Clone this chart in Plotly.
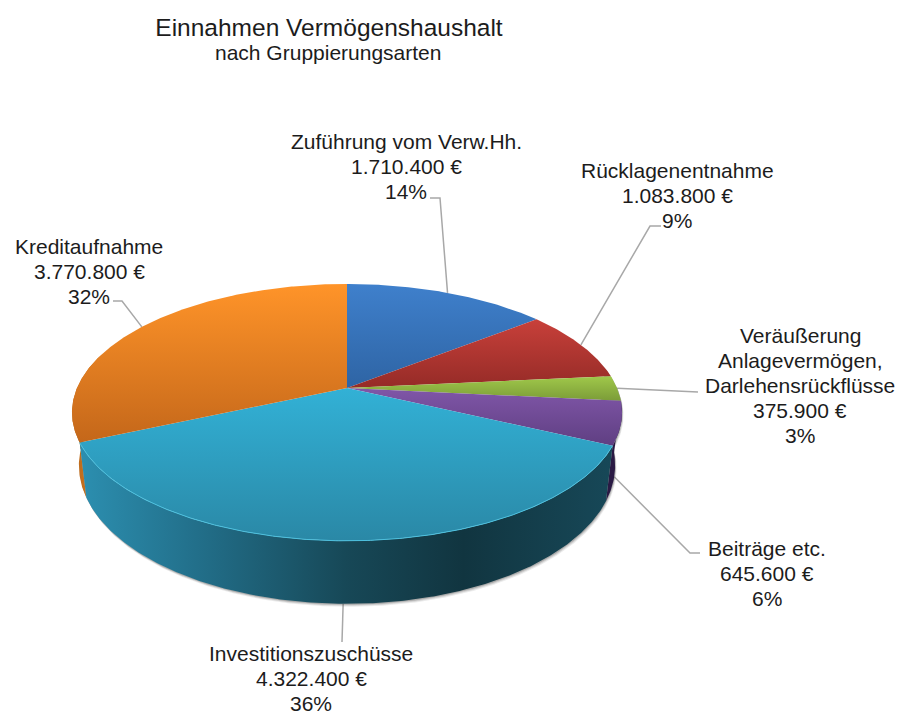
import numpy as np
import plotly.graph_objects as go

# ---- data ----
categories = ["Zuführung vom Verw.Hh.", "Rücklagenentnahme",
              "Veräußerung<br>Anlagevermögen,<br>Darlehensrückflüsse",
              "Beiträge etc.", "Investitionszuschüsse", "Kreditaufnahme"]
values = [1710400, 1083800, 375900, 645600, 4322400, 3770800]
value_labels = ["1.710.400 €", "1.083.800 €", "375.900 €", "645.600 €", "4.322.400 €", "3.770.800 €"]
percent_labels = ["14%", "9%", "3%", "6%", "36%", "32%"]

# ---- styling ----
top_colors = [("#2e64a4", "#3f80cc"), ("#952b27", "#c8403a"), ("#7b9c38", "#a0c84a"),
              ("#5f3f82", "#8056a8"), ("#2a88a6", "#32b1d6"), ("#c4671a", "#ff9429")]
wall_scales = [None, None, None,
               [[0, "#2a1a44"], [1, "#2a1a44"]],
               [[0, "#2c8fb0"], [0.22, "#226f8a"], [0.5, "#174857"], [0.72, "#113540"], [1, "#174858"]],
               [[0, "#b8681c"], [1, "#d87c20"]]]
FONT = "Liberation Sans"
TXT = "#1c1c1c"
LEADER = "#a8a8a8"

# projection geometry (perspective view of a flat cylinder)
CX, CY, R, H, K, DEPTH, SHRINK = 347, 388, 270, 123.8, 0.19, 51, 0.025


def project(theta_deg, z=0.0):
    t = np.radians(theta_deg)
    s = 1 / (1 + K * np.cos(t))
    x = CX + (1 - SHRINK * z) * R * np.sin(t) * s
    y = CY - H * np.cos(t) * s + z * DEPTH * s
    return x, y


def arc(a, b):
    n = max(2, int(abs(b - a) * 2) + 1)
    return np.linspace(a, b, n)


fracs = np.array(values) / np.sum(values)
edges = np.concatenate([[0], np.cumsum(fracs)]) * 360

fig = go.Figure()

# leader lines (label-side elbows, then slice anchor)
elbows = [[(430, 198), (440, 198)], [(661, 226), (650, 226)], [(698, 392)],
          [(700, 553), (690, 553)], [(342, 642)], [(113, 301), (122, 301)]]
anchor_z = [0, 0, 0, 1, 1, 0]
for i, pts in enumerate(elbows):
    mid = (edges[i] + edges[i + 1]) / 2
    ax, ay = project(mid, anchor_z[i])
    xs = [p[0] for p in pts] + [float(ax)]
    ys = [p[1] for p in pts] + [float(ay)]
    fig.add_trace(go.Scatter(x=xs, y=ys, mode="lines", line=dict(color=LEADER, width=1.5),
                             hoverinfo="skip", showlegend=False))

# soft shadow beneath the cylinder
th = arc(80, 285)
bx, by = project(th, 1)
tx, ty = project(th, 0)
for off, alpha in [(3, 0.10), (2, 0.16), (1, 0.25)]:
    fig.add_trace(go.Scatter(
        x=np.concatenate([tx, bx[::-1]]) + off * 0.5, y=np.concatenate([ty, by[::-1]]) + off,
        mode="lines", fill="toself", fillcolor=f"rgba(60,60,60,{alpha})",
        line=dict(width=0), hoverinfo="skip", showlegend=False))

# outer walls
for i in [3, 5, 4]:
    a, b = max(edges[i], 80), min(edges[i + 1], 285)
    th = arc(a, b)
    tx, ty = project(th, 0)
    bx, by = project(th, 1)
    fig.add_trace(go.Scatter(
        x=np.concatenate([tx, bx[::-1]]), y=np.concatenate([ty, by[::-1]]),
        mode="lines", fill="toself", line=dict(width=0),
        fillgradient=dict(type="horizontal", colorscale=wall_scales[i]),
        hoverinfo="skip", showlegend=False))

# top faces
for i in range(len(values)):
    th = arc(edges[i], edges[i + 1])
    x, y = project(th, 0)
    fig.add_trace(go.Scatter(
        x=np.concatenate([[CX], x, [CX]]), y=np.concatenate([[CY], y, [CY]]),
        mode="lines", fill="toself", line=dict(width=0),
        fillgradient=dict(type="vertical", colorscale=[[0, top_colors[i][0]], [1, top_colors[i][1]]]),
        name=categories[i].replace("<br>", " "), hoverinfo="name", showlegend=False))

# thin bright rim on the front edge
th = arc(edges[4], edges[5])
x, y = project(th, 0)
fig.add_trace(go.Scatter(x=x, y=y, mode="lines", line=dict(color="#4cc0de", width=1),
                         hoverinfo="skip", showlegend=False))

# data labels, one annotation per line for exact leading
label_pos = [(406, 141), (677, 170), (800, 335), (767, 548), (311, 653), (89, 246)]
STEP = 25
annotations = []
for i, (lx, ly) in enumerate(label_pos):
    lines = categories[i].split("<br>") + [value_labels[i], percent_labels[i]]
    for j, line in enumerate(lines):
        annotations.append(dict(x=lx, y=ly + j * STEP, text=line, showarrow=False, xref="x", yref="y",
                                xanchor="center", yanchor="middle",
                                font=dict(family=FONT, size=21, color=TXT)))
annotations.append(dict(x=328, y=52, text="nach Gruppierungsarten", showarrow=False, xref="x", yref="y",
                        xanchor="center", yanchor="middle", font=dict(family=FONT, size=21, color=TXT)))

fig.update_layout(
    width=904, height=716, margin=dict(l=0, r=0, t=0, b=0),
    paper_bgcolor="white", plot_bgcolor="white", showlegend=False,
    title=dict(text="Einnahmen Vermögenshaushalt", x=329 / 904, y=1 - 27 / 716, xanchor="center",
               yanchor="middle", font=dict(family=FONT, size=24.5, color=TXT)),
    xaxis=dict(range=[0, 904], visible=False, fixedrange=True),
    yaxis=dict(range=[716, 0], visible=False, fixedrange=True),
    annotations=annotations,
)
fig.write_html("out.html", config={"displayModeBar": False}, include_plotlyjs=True,
               post_script="document.body.style.margin='0';document.body.style.overflow='hidden';")
